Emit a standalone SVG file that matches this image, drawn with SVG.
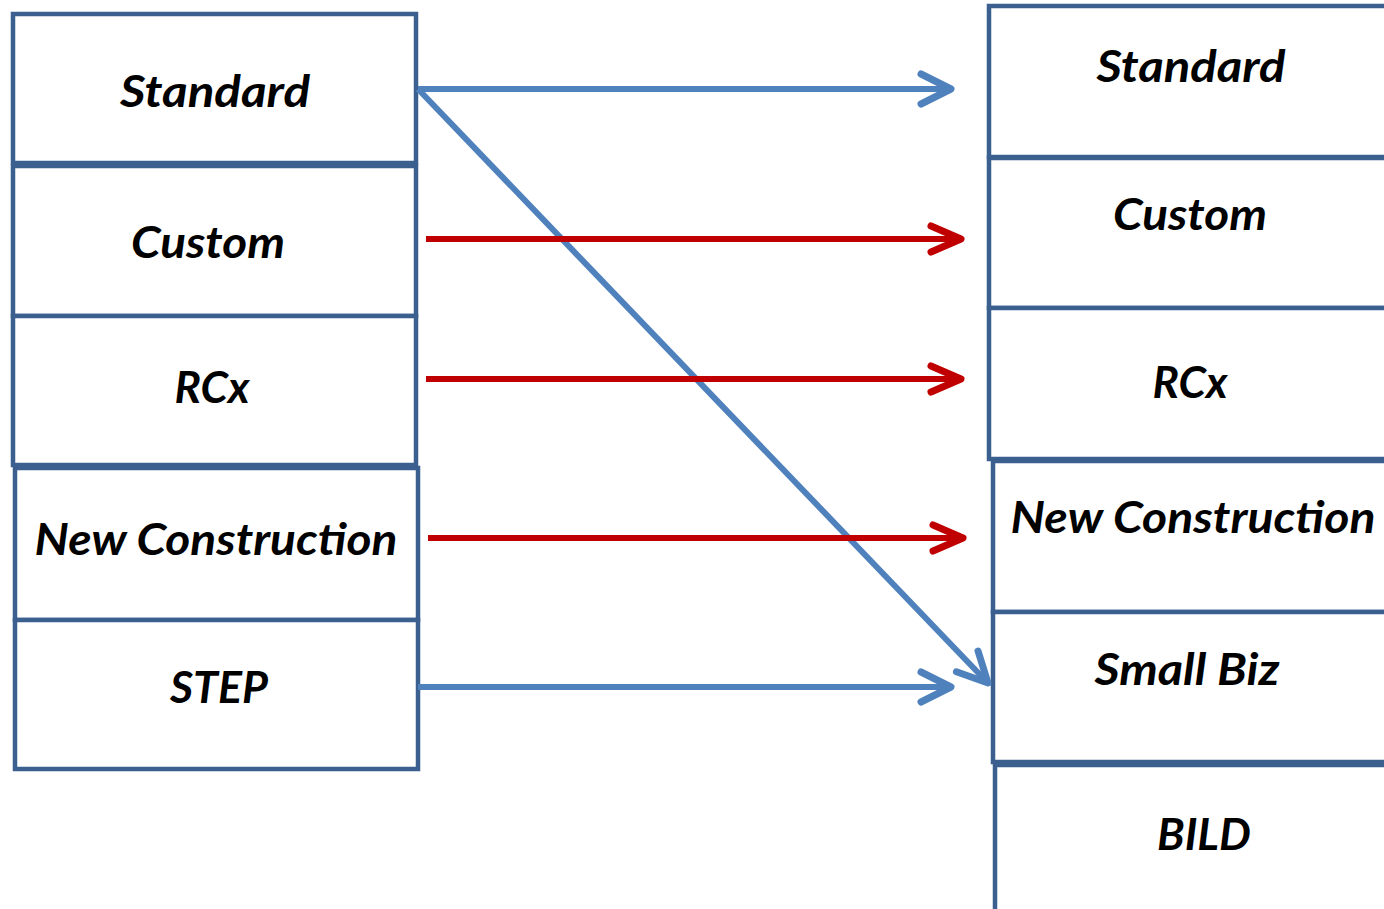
<svg xmlns="http://www.w3.org/2000/svg" width="1384" height="909" viewBox="0 0 1384 909">
<style>
.box{fill:#ffffff;stroke:#3B6090;stroke-width:4.5}
.lbl{font-family:Lato,"Open Sans","Liberation Sans",sans-serif;font-weight:bold;font-style:italic;font-size:44px;fill:#000000;text-anchor:middle}
.blue{stroke:#4F81BD;stroke-width:6;fill:none}
.red{stroke:#C00000;stroke-width:6;fill:none}
</style>
<defs>
<marker id="ahBlue" markerUnits="userSpaceOnUse" viewBox="-40 -25 50 50" refX="0" refY="0" markerWidth="50" markerHeight="50" orient="auto" overflow="visible">
<path d="M-30,-15 L0,0 L-30,15" fill="none" stroke="#4F81BD" stroke-width="7" stroke-linecap="round" stroke-linejoin="round"/>
</marker>
<marker id="ahRed" markerUnits="userSpaceOnUse" viewBox="-40 -25 50 50" refX="0" refY="0" markerWidth="50" markerHeight="50" orient="auto" overflow="visible">
<path d="M-30,-13 L0,0 L-30,13" fill="none" stroke="#C00000" stroke-width="7" stroke-linecap="round" stroke-linejoin="round"/>
</marker>
</defs>
<rect width="1384" height="909" fill="#ffffff"/>
<g id="left-standard"><rect class="box" x="13" y="14" width="403" height="149"/><text class="lbl" x="215" y="107" textLength="190" lengthAdjust="spacingAndGlyphs">Standard</text></g>
<g id="left-custom"><rect class="box" x="13" y="166" width="403" height="150"/><text class="lbl" x="208" y="258" textLength="154" lengthAdjust="spacingAndGlyphs">Custom</text></g>
<g id="left-rcx"><rect class="box" x="13" y="316" width="403" height="149"/><text class="lbl" x="212" y="403" textLength="75" lengthAdjust="spacingAndGlyphs">RCx</text></g>
<g id="left-newconstruction"><rect class="box" x="15" y="468" width="403" height="152"/><text class="lbl" x="216" y="555" textLength="363" lengthAdjust="spacingAndGlyphs">New Construction</text></g>
<g id="left-step"><rect class="box" x="15" y="620" width="403" height="149"/><text class="lbl" x="219" y="703" textLength="98" lengthAdjust="spacingAndGlyphs">STEP</text></g>
<g id="right-standard"><rect class="box" x="989" y="6" width="420" height="151"/><text class="lbl" x="1191" y="82" textLength="189" lengthAdjust="spacingAndGlyphs">Standard</text></g>
<g id="right-custom"><rect class="box" x="989" y="158" width="420" height="150"/><text class="lbl" x="1190" y="230" textLength="154" lengthAdjust="spacingAndGlyphs">Custom</text></g>
<g id="right-rcx"><rect class="box" x="989" y="308" width="420" height="151"/><text class="lbl" x="1190" y="398" textLength="75" lengthAdjust="spacingAndGlyphs">RCx</text></g>
<g id="right-newconstruction"><rect class="box" x="993" y="461" width="420" height="151"/><text class="lbl" x="1193" y="533" textLength="365" lengthAdjust="spacingAndGlyphs">New Construction</text></g>
<g id="right-smallbiz"><rect class="box" x="993" y="612" width="420" height="150"/><text class="lbl" x="1187" y="685" textLength="185" lengthAdjust="spacingAndGlyphs">Small Biz</text></g>
<g id="right-bild"><rect class="box" x="995" y="765" width="420" height="170"/><text class="lbl" x="1204" y="850" textLength="94" lengthAdjust="spacingAndGlyphs">BILD</text></g>
<g id="connectors">
<line class="blue" x1="418" y1="89" x2="951" y2="89" marker-end="url(#ahBlue)"/>
<line class="blue" x1="418" y1="89" x2="988" y2="683" marker-end="url(#ahBlue)"/>
<line class="red" x1="426" y1="239" x2="961" y2="239" marker-end="url(#ahRed)"/>
<line class="red" x1="426" y1="379" x2="961" y2="379" marker-end="url(#ahRed)"/>
<line class="red" x1="428" y1="538" x2="963" y2="538" marker-end="url(#ahRed)"/>
<line class="blue" x1="418" y1="687" x2="951" y2="687" marker-end="url(#ahBlue)"/>
</g>
</svg>
